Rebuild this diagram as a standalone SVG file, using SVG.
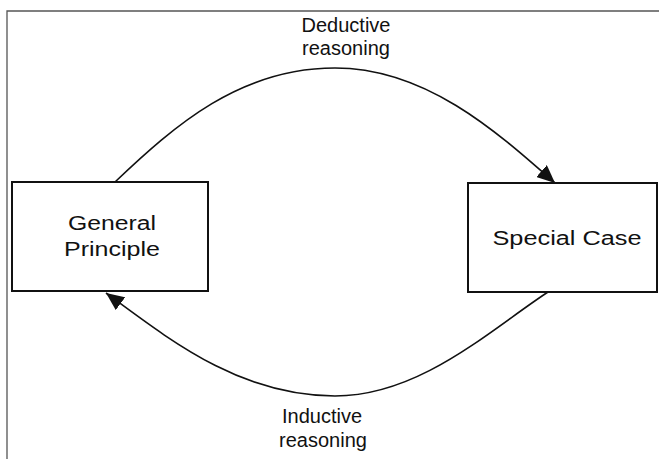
<svg xmlns="http://www.w3.org/2000/svg" width="659" height="459" viewBox="0 0 659 459">
<style>
.box{fill:#fff;stroke:#111;stroke-width:2}
.t{font-family:"Liberation Sans",Arial,sans-serif;font-size:20px;fill:#111;text-anchor:middle}
.c{fill:none;stroke:#111;stroke-width:1.6}
.frame{fill:none;stroke:#555;stroke-width:1.3}
</style>
<defs>
<marker id="ah" markerWidth="20" markerHeight="16" refX="18" refY="8" orient="auto" markerUnits="userSpaceOnUse">
<path d="M0,0 L18,8 L0,16 Z" fill="#111"/>
</marker>
</defs>
<rect width="659" height="459" fill="#fff"/>
<path class="frame" d="M7,459 L7,11 L659,11"/>
<g id="connectors">
<path class="c" d="M115,182 C175,125 240,68 335,68 C425,68 495,130 555,183" marker-end="url(#ah)"/>
<path class="c" d="M548,292 C490,330 420,396 335,396 C240,396 170,340 106,293" marker-end="url(#ah)"/>
</g>
<g id="general">
<rect class="box" x="12" y="182" width="196" height="109"/>
<text class="t" x="112" y="230" textLength="88" lengthAdjust="spacingAndGlyphs">General</text>
<text class="t" x="112" y="256" textLength="96" lengthAdjust="spacingAndGlyphs">Principle</text>
</g>
<g id="special">
<rect class="box" x="468" y="183" width="189" height="109"/>
<text class="t" x="567" y="245" textLength="149" lengthAdjust="spacingAndGlyphs">Special Case</text>
</g>
<g id="deductive-label">
<text class="t" x="346" y="32">Deductive</text>
<text class="t" x="346" y="55">reasoning</text>
</g>
<g id="inductive-label">
<text class="t" x="322" y="423">Inductive</text>
<text class="t" x="323" y="447">reasoning</text>
</g>
</svg>
